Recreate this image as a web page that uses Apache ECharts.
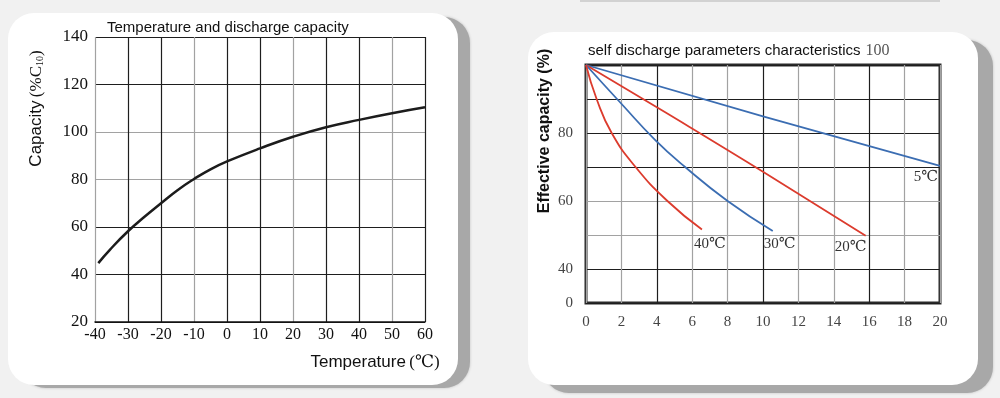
<!DOCTYPE html>
<html>
<head>
<meta charset="utf-8">
<script src="https://cdn.jsdelivr.net/npm/echarts@6/dist/echarts.min.js"></script>
<style>
  html, body { margin: 0; padding: 0; background: #f1f1f1; }
  #chart { width: 1000px; height: 398px; }
</style>
</head>
<body>
<div id="chart"></div>
<script>
// 左图：温度 vs 容量
const tempC = [-39, -35.5, -30, -25, -20, -15, -10, -5, 0, 10, 20, 30, 40, 50, 60];
const capacityPct = [44.8, 50.4, 58.2, 64.3, 70, 75.5, 80.2, 84.3, 87.6, 93.1, 98, 102, 105.1, 107.9, 110.4];

// 右图：自放电曲线 (x = 月, y = 有效容量 %)
const x5 = [0, 10, 20];
const y5 = [100, 84.9, 70.3];
const x20 = [0, 4.5, 10, 15.8];
const y20 = [100, 86, 68.6, 49.8];
const x30 = [0, 2, 3.9, 5.6, 8, 10.55];
const y30 = [100, 88.6, 78, 70, 60, 51.2];
const x40 = [0, 0.6, 1.45, 2.8, 4.6, 6.55];
const y40 = [100, 90, 80, 70, 60, 51.6];

const tempTicks = [-40, 60, 10];
const monthTicks = [0, 20, 2];

const SERIF = '"Liberation Serif", "DejaVu Serif", serif';
const SANS = '"Liberation Sans", Arial, sans-serif';
const GRAY = '#a2a2a2';
const DARK = '#1e1e1e';
const BLUE = '#3b6db2';
const RED = '#dc3b2d';

function zip(xs, ys) {
    return xs.map((x, i) => [x, ys[i]]);
}

function curve(xs, ys, color, name, offset) {
    return {
        type: 'line',
        name: name,
        xAxisIndex: 1,
        yAxisIndex: 1,
        data: zip(xs, ys),
        smooth: 0.5,
        showSymbol: false,
        lineStyle: { color: color, width: 1.8 },
        endLabel: {
            show: true,
            formatter: name,
            fontFamily: SERIF,
            fontSize: 15,
            color: '#333',
            align: 'center',
            verticalAlign: 'middle',
            distance: 0,
            offset: offset
        }
    };
}

const chart = echarts.init(document.getElementById('chart'));

const option = {
    backgroundColor: '#f1f1f1',
    animation: false,
    graphic: [
        // 卡片阴影 + 白底
        { type: 'rect', z: -10, shape: { x: 20, y: 17, width: 450, height: 371, r: 26 },
          style: { fill: '#a8a8a8', shadowBlur: 3, shadowColor: 'rgba(0,0,0,0.2)' } },
        { type: 'rect', z: -9, shape: { x: 8, y: 13, width: 450, height: 372, r: 26 },
          style: { fill: '#ffffff' } },
        { type: 'rect', z: -10, shape: { x: 543, y: 40, width: 450, height: 353, r: 26 },
          style: { fill: '#a8a8a8', shadowBlur: 3, shadowColor: 'rgba(0,0,0,0.2)' } },
        { type: 'rect', z: -9, shape: { x: 528, y: 32, width: 450, height: 353, r: 26 },
          style: { fill: '#ffffff' } },
        { type: 'rect', z: -9, shape: { x: 580, y: 0, width: 360, height: 2 },
          style: { fill: '#d2d2d2' } }
    ],
    title: [
        {
            text: 'Temperature and discharge capacity',
            left: 102, top: 15,
            textStyle: { fontFamily: SANS, fontSize: 15, fontWeight: 'normal', color: '#111' }
        },
        {
            text: '{a|self discharge parameters characteristics} {b|100}',
            left: 583, top: 37,
            textStyle: {
                fontWeight: 'normal',
                rich: {
                    a: { fontFamily: SANS, fontSize: 15, fontWeight: 'normal', color: '#111' },
                    b: { fontFamily: SERIF, fontSize: 16, fontWeight: 'normal', color: '#555' }
                }
            }
        }
    ],
    grid: [
        { left: 95, right: 575, top: 37, bottom: 76 },
        { left: 586, right: 60, top: 65, bottom: 95, show: true,
          borderColor: '#2a2a2a', borderWidth: 3, backgroundColor: 'transparent' }
    ],
    xAxis: [
        {
            type: 'value', gridIndex: 0,
            min: tempTicks[0], max: tempTicks[1], interval: tempTicks[2],
            axisLine: { show: true, onZero: false, lineStyle: { color: '#111', width: 1.5 } },
            axisTick: { show: false },
            axisLabel: { color: '#111', fontFamily: SERIF, fontSize: 16, margin: 5 },
            splitLine: { show: true, lineStyle: { color: [GRAY, DARK, DARK], width: 1.2 } },
            name: '{a|Temperature} {b|(℃)}',
            nameLocation: 'middle',
            nameGap: 32,
            nameTextStyle: {
                padding: [0, 0, 0, 230],
                rich: {
                    a: { fontFamily: SANS, fontSize: 17, color: '#111' },
                    b: { fontFamily: SERIF, fontSize: 17, color: '#111' }
                }
            }
        },
        {
            type: 'value', gridIndex: 1,
            min: monthTicks[0], max: monthTicks[1], interval: monthTicks[2],
            axisLine: { show: false },
            axisTick: { show: false },
            axisLabel: { color: '#444', fontFamily: SERIF, fontSize: 15, margin: 12 },
            splitLine: { show: true, lineStyle: { color: [GRAY, GRAY, DARK], width: 1.2 } }
        }
    ],
    yAxis: [
        {
            type: 'value', gridIndex: 0,
            min: 20, max: 140, interval: 20,
            axisLine: { show: false },
            axisTick: { show: false },
            axisLabel: { color: '#111', fontFamily: SERIF, fontSize: 17, margin: 7 },
            splitLine: { show: true, lineStyle: { color: [DARK, DARK, DARK, GRAY, GRAY, DARK, DARK], width: 1.2 } },
            name: '{a|Capacity} {b|(%C}{c|10}{b|)}',
            nameLocation: 'middle',
            nameGap: 50,
            nameRotate: 90,
            nameTextStyle: {
                padding: [0, 0, 0, 142],
                rich: {
                    a: { fontFamily: SANS, fontSize: 17, color: '#111' },
                    b: { fontFamily: SERIF, fontSize: 17, color: '#111' },
                    c: { fontFamily: SERIF, fontSize: 10, color: '#111', verticalAlign: 'bottom' }
                }
            }
        },
        {
            type: 'value', gridIndex: 1,
            min: 30, max: 100, interval: 10,
            axisLine: { show: false },
            axisTick: { show: false },
            axisLabel: {
                color: '#444', fontFamily: SERIF, fontSize: 15, margin: 13,
                formatter: function (v) {
                    if (v === 30) return '0';
                    return (v === 80 || v === 60 || v === 40) ? String(v) : '';
                }
            },
            splitLine: { show: true, lineStyle: { color: [DARK, DARK, GRAY, GRAY, DARK, DARK, DARK, DARK], width: 1.2 } },
            name: 'Effective capacity (%)',
            nameLocation: 'middle',
            nameGap: 33,
            nameRotate: 90,
            nameTextStyle: {
                fontFamily: SANS, fontSize: 16, fontWeight: 'bold', color: '#111',
                padding: [0, 0, 0, 106]
            }
        }
    ],
    series: [
        {
            type: 'line',
            xAxisIndex: 0, yAxisIndex: 0,
            data: zip(tempC, capacityPct),
            smooth: 0.5,
            showSymbol: false,
            lineStyle: { color: '#1c1c1c', width: 2.5 }
        },
        curve(x5, y5, BLUE, '5℃', [-14, 11]),
        curve(x20, y20, RED, '20℃', [-15, 11]),
        curve(x30, y30, BLUE, '30℃', [7, 13]),
        curve(x40, y40, RED, '40℃', [8, 15])
    ]
};

chart.setOption(option);
</script>
</body>
</html>
